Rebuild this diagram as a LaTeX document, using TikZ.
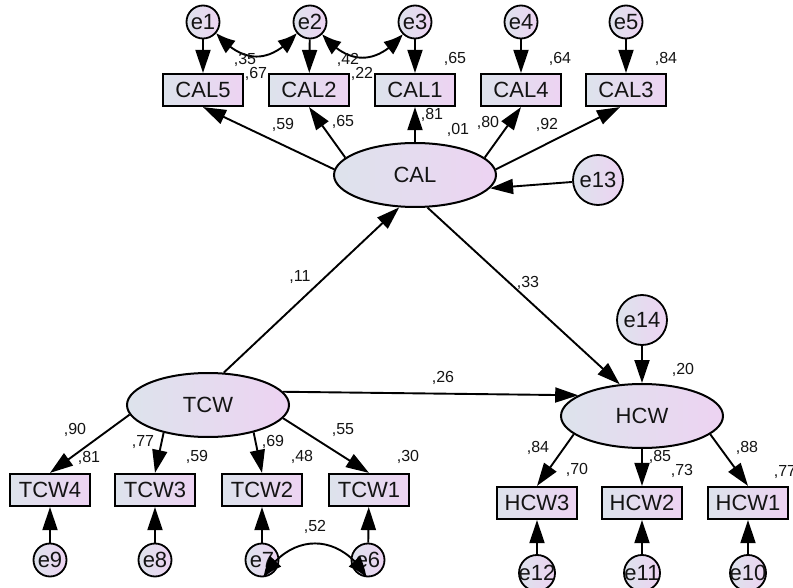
\documentclass[tikz,border=0pt]{standalone}
\usepackage{fontspec}
\setmainfont{Liberation Sans}
\usetikzlibrary{arrows.meta,bending,shapes.geometric}
\definecolor{cA}{HTML}{DDE3EC}
\definecolor{cB}{HTML}{EDD3F2}
\definecolor{txt}{HTML}{141414}
\begin{document}
\begin{tikzpicture}[x=1pt,y=-1pt,
  font=\fontsize{22}{24}\selectfont,
  ov/.style={draw, line width=2.2pt, rectangle, minimum width=80pt, minimum height=32pt, inner sep=0pt, left color=cA, right color=cB, text=txt},
  lat/.style={draw, line width=2pt, ellipse, minimum width=162pt, minimum height=64pt, inner sep=0pt, left color=cA, right color=cB, text=txt},
  err/.style={draw, line width=1.8pt, circle, minimum size=33pt, inner sep=0pt, left color=cA, right color=cB, text=txt},
  errb/.style={err, minimum size=50pt},
  errc/.style={err, minimum size=36pt},
  lab/.style={font=\fontsize{16}{18}\selectfont, text=txt, inner sep=0pt},
  arr/.style={line width=1.9pt, -{Triangle[length=23pt,width=15pt]}},
  cov/.style={line width=1.9pt, {Triangle[length=21pt,width=15pt,bend]}-{Triangle[length=21pt,width=15pt,bend]}}
]
\useasboundingbox (0,0) rectangle (793,588);
\clip (0,0) rectangle (793,588);

% error terms top
\node[err] (e1) at (203,22) {\makebox[0pt]{e1}};
\node[err] (e2) at (310,22) {\makebox[0pt]{e2}};
\node[err] (e3) at (415,22) {\makebox[0pt]{e3}};
\node[err] (e4) at (521,22) {\makebox[0pt]{e4}};
\node[err] (e5) at (626,22) {\makebox[0pt]{e5}};

% CAL indicators
\node[ov] (CAL5) at (203,90) {CAL5};
\node[ov] (CAL2) at (309,90) {CAL2};
\node[ov] (CAL1) at (415,90) {CAL1};
\node[ov] (CAL4) at (521,90) {CAL4};
\node[ov] (CAL3) at (626,90) {CAL3};

% latents
\node[lat] (CAL) at (415,175) {CAL};
\node[errb] (e13) at (598,180) {e13};
\node[lat] (TCW) at (208,405) {TCW};
\node[lat] (HCW) at (642,416) {HCW};
\node[errb] (e14) at (642,320) {e14};

% TCW indicators
\node[ov] (TCW4) at (50,490) {TCW4};
\node[ov] (TCW3) at (155,490) {TCW3};
\node[ov] (TCW2) at (262,490) {TCW2};
\node[ov] (TCW1) at (369,490) {TCW1};
\node[err] (e9) at (50,560) {\makebox[0pt]{e9}};
\node[err] (e8) at (155,560) {\makebox[0pt]{e8}};
\node[err] (e7) at (262,560) {\makebox[0pt]{e7}};
\node[err] (e6) at (368,560) {\makebox[0pt]{e6}};

% HCW indicators
\node[ov] (HCW3) at (537,503) {HCW3};
\node[ov] (HCW2) at (642,503) {HCW2};
\node[ov] (HCW1) at (748,503) {HCW1};
\node[errc] (e12) at (537,573) {\makebox[0pt]{e12}};
\node[errc] (e11) at (642,573) {\makebox[0pt]{e11}};
\node[errc] (e10) at (748,573) {\makebox[0pt]{e10}};

% arrows top
\draw[arr] (e1) -- (CAL5);
\draw[arr] (e2) -- (CAL2);
\draw[arr] (e3) -- (CAL1);
\draw[arr] (e4) -- (CAL4);
\draw[arr] (e5) -- (CAL3);
\draw[arr] (CAL.176) -- (CAL5.south);
\draw[arr] (CAL.166) -- (CAL2.south);
\draw[arr] (CAL.north) -- (CAL1.south);
\draw[arr] (CAL.14) -- (CAL4.south);
\draw[arr] (CAL.4) -- ([xshift=-6pt]CAL3.south);
\draw[arr] (e13) -- (CAL.-10);
\draw[cov] (e1.-40) to[out=-50,in=-130,looseness=1.3] (e2.-140);
\draw[cov] (e2.-45) to[out=-50,in=-130,looseness=1.3] (e3.-135);

% structural
\draw[arr] (TCW.64) -- (CAL.244);
\draw[arr] (CAL.-69) -- (HCW.125);
\draw[arr] (TCW.10) -- (HCW.162);
\draw[arr] (e14) -- (HCW);

% TCW loadings
\draw[arr] (TCW.187) -- (TCW4.north);
\draw[arr] (TCW.212) -- (TCW3.north);
\draw[arr] (TCW.-31) -- (TCW2.north);
\draw[arr] (TCW.-10) -- (TCW1.north);
\draw[arr] (e9) -- (TCW4);
\draw[arr] (e8) -- (TCW3);
\draw[arr] (e7) -- (TCW2);
\draw[arr] (e6) -- (TCW1);
\draw[cov] (e7.-85) to[out=60,in=120,looseness=1.3] (e6.-95);

% HCW loadings
\draw[arr] (HCW.195) -- (HCW3.north);
\draw[arr] (HCW) -- (HCW2);
\draw[arr] (HCW.-15) -- (HCW1.north);
\draw[arr] (e12) -- (HCW3);
\draw[arr] (e11) -- (HCW2);
\draw[arr] (e10) -- (HCW1);

% labels
\node[lab] (l35) at (245,60) {,35};
\node[lab] (l67) at (256,74) {,67};
\node[lab] (l42) at (348,60) {,42};
\node[lab] (l22) at (362,74) {,22};
\node[lab] (l65a) at (455,59) {,65};
\node[lab] (l64) at (560,59) {,64};
\node[lab] (l84a) at (666,59) {,84};
\node[lab] (l59a) at (283,125) {,59};
\node[lab] (l65b) at (343,122) {,65};
\node[lab] (l81a) at (432,115) {,81};
\node[lab] (l01) at (458,130) {,01};
\node[lab] (l80) at (488,123) {,80};
\node[lab] (l92) at (547,125) {,92};
\node[lab] (l11) at (300,277) {,11};
\node[lab] (l33) at (528,283) {,33};
\node[lab] (l26) at (443,378) {,26};
\node[lab] (l20) at (683,370) {,20};
\node[lab] (l90) at (75,430) {,90};
\node[lab] (l81b) at (89,458) {,81};
\node[lab] (l77a) at (143,442) {,77};
\node[lab] (l59b) at (197,457) {,59};
\node[lab] (l69) at (273,442) {,69};
\node[lab] (l48) at (302,457) {,48};
\node[lab] (l55) at (343,430) {,55};
\node[lab] (l30) at (408,457) {,30};
\node[lab] (l52) at (315,527) {,52};
\node[lab] (l84b) at (538,448) {,84};
\node[lab] (l70) at (577,470) {,70};
\node[lab] (l85) at (660,457) {,85};
\node[lab] (l73) at (682,471) {,73};
\node[lab] (l88) at (747,448) {,88};
\node[lab] (l77b) at (785,472) {,77};
\end{tikzpicture}
\end{document}
